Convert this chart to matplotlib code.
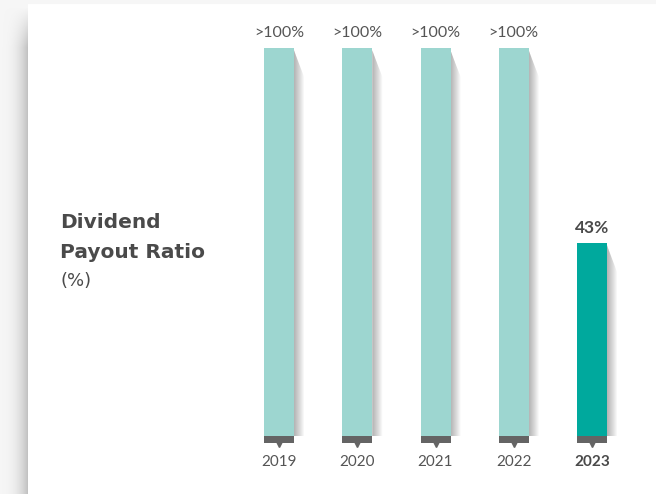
import numpy as np
import matplotlib.pyplot as plt
from matplotlib.patches import Polygon

years = ['2019', '2020', '2021', '2022', '2023']
value_labels = ['>100%', '>100%', '>100%', '>100%', '43%']
# payout ratio as drawn; the >100% years are cut off at the top of the chart
bar_values = [86.5, 86.5, 86.5, 86.5, 43]
highlight = '2023'

light = '#9dd6d0'
teal = '#00a99d'
cap_col = '#646464'
txt = '#555555'

W, H = 656, 494
fig = plt.figure(figsize=(W / 100, H / 100), dpi=100)

# background: grey page, white card with a soft shadow on the left
bg = fig.add_axes([0, 0, 1, 1])
img = np.ones((H, W, 3)) * 0.965
xs = np.arange(W)
card_left = 28
shade = np.clip((xs - (card_left - 28)) / 28.0, 0, 1) ** 2.5
ys = np.arange(H)
vfade = np.clip((ys - 8) / 40.0, 0, 1)
for i in range(card_left):
    img[:, i, :] = (0.965 - 0.22 * shade[i] * vfade)[:, None]
img[5:, card_left:, :] = 1.0
bg.imshow(img, extent=[0, W, 0, H], aspect='auto')
bg.axis('off')

# main axes, placed so bars sit where they do in the reference
unit = 78.25
left = 279 - 0.5 * unit
ax = fig.add_axes([left / W, 58 / H, 5 * unit / W, 426 / H])
ax.set_xlim(-0.5, 4.5)
ax.set_ylim(0, 95)
ax.axis('off')
ax.patch.set_alpha(0)

px_x = 5.0 / (5 * unit)   # data units per pixel in x
px_y = 95.0 / 426         # data units per pixel in y
bw = 30 * px_x
x = np.arange(len(years))

for i, (yr, v, lab) in enumerate(zip(years, bar_values, value_labels)):
    bold = yr == highlight
    col = teal if bold else light
    # shadow to the right of the bar
    r = i + bw / 2
    for k in range(10):
        off = (k + 1) * px_x
        poly = Polygon([(r, v - 2 * px_y), (r + off, v - (6 + 2.5 * k) * px_y),
                        (r + off, 0), (r, 0)], closed=True,
                       facecolor='black', edgecolor='none', alpha=0.03)
        ax.add_patch(poly)
    ax.bar(i, v, width=bw, color=col, zorder=3)
    # dark cap with a little pointer under each bar
    ax.bar(i, -7 * px_y, width=bw, color=cap_col, zorder=3, clip_on=False)
    ax.plot(i, -7.5 * px_y, marker='v', color=cap_col, markersize=5,
            clip_on=False, zorder=3)
    ax.text(i, -26 * px_y, yr, ha='center', va='center', fontsize=11,
            color='#4a4a4a' if bold else txt, family='Lato',
            fontweight='bold' if bold else 'normal', clip_on=False)
    ax.text(i, v + 15 * px_y, lab, ha='center', va='center',
            fontsize=12.5 if bold else 11.5,
            color='#4a4a4a' if bold else txt, family='Lato',
            fontweight='bold' if bold else 'normal', clip_on=False)

fig.text(60 / W, 1 - 222 / H, 'Dividend', fontsize=14.5, fontweight='bold',
         color='#4a4a4a', family='DejaVu Sans', va='center', ha='left')
fig.text(60 / W, 1 - 252 / H, 'Payout Ratio', fontsize=14.5, fontweight='bold',
         color='#4a4a4a', family='DejaVu Sans', va='center', ha='left')
fig.text(60 / W, 1 - 281 / H, '(%)', fontsize=13, color='#4a4a4a',
         family='DejaVu Sans', va='center', ha='left')

fig.savefig('out.png', dpi=100)
